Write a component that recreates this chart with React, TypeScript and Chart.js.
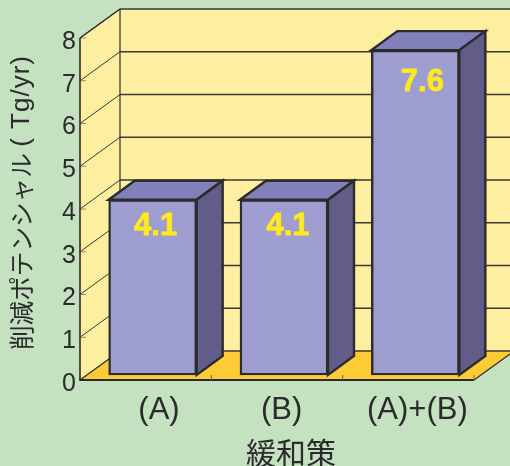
import React, { useEffect, useRef } from "react";
import { Chart, registerables } from "chart.js";

Chart.register(...registerables);

const categories = ["(A)", "(B)", "(A)+(B)"];
const potentials = [4.1, 4.1, 7.6];
const valueTicks = [0, 1, 2, 3, 4, 5, 6, 7, 8];
const yAxisTitleJa = "削減ポテンシャル";
const yAxisTitleUnit = "( Tg/yr)";
const xAxisTitle = "緩和策";

const PAGE_BG = "#c5e2c0";
const WALL = "#fdeea0";
const FLOOR = "#fdcb35";
const BAR_FRONT = "#9d9dcf";
const BAR_TOP = "#8280b8";
const BAR_SIDE = "#615c88";
const INK = "#2b2a2c";
const LABEL = "#ffe81e";
const LATIN = '"Liberation Sans", Arial, sans-serif';
const CJK = '"Noto Sans CJK JP", sans-serif';

// Room depth and bar depth of the fake 3D projection.
const ROOM_DX = 40;
const ROOM_DY = 29;
const BAR_DX = 26;
const BAR_DY = 19;
const BAR_SHIFT_X = 7;
const BAR_SHIFT_Y = -5;
const VALUE_NUDGE = [
  { x: 3, y: 27 },
  { x: 4, y: 27 },
  { x: 7, y: 32 },
];
// Padding that nudges the category labels sideways around their slots.
const TICK_PAD = [[" ", ""], ["", " "], ["", ""]];

function poly(ctx: CanvasRenderingContext2D, pts: number[][], fill?: string, stroke?: string, lw = 2) {
  ctx.beginPath();
  pts.forEach(([x, y], i) => (i ? ctx.lineTo(x, y) : ctx.moveTo(x, y)));
  ctx.closePath();
  if (fill) {
    ctx.fillStyle = fill;
    ctx.fill();
  }
  if (stroke) {
    ctx.strokeStyle = stroke;
    ctx.lineWidth = lw;
    ctx.lineJoin = "miter";
    ctx.stroke();
  }
}

function line(ctx: CanvasRenderingContext2D, x1: number, y1: number, x2: number, y2: number, color: string, lw: number) {
  ctx.beginPath();
  ctx.moveTo(x1, y1);
  ctx.lineTo(x2, y2);
  ctx.strokeStyle = color;
  ctx.lineWidth = lw;
  ctx.stroke();
}

// Walls, floor and grid of the room behind the bars.
const roomPlugin = {
  id: "room",
  beforeDatasetsDraw(chart: any) {
    const { ctx, chartArea: a, scales } = chart;
    const y0 = scales.y.getPixelForValue(0);
    const yMax = scales.y.getPixelForValue(8);
    const dx = ROOM_DX;
    const dy = ROOM_DY;
    ctx.save();
    poly(ctx, [[a.left + dx, yMax - dy], [a.right + dx, yMax - dy], [a.right + dx, y0 - dy], [a.left + dx, y0 - dy]], WALL);
    poly(ctx, [[a.left, yMax], [a.left + dx, yMax - dy], [a.left + dx, y0 - dy], [a.left, y0]], WALL);
    poly(ctx, [[a.left, y0], [a.left + dx, y0 - dy], [a.right + dx, y0 - dy], [a.right, y0]], FLOOR);
    valueTicks.forEach((v) => {
      const y = scales.y.getPixelForValue(v);
      if (v > 0) {
        line(ctx, a.left, y, a.left + dx, y - dy, "#3a3834", 1);
        line(ctx, a.left, y, a.left + 6, y, "#8f8a6c", 1);
      }
      line(ctx, a.left + dx, y - dy, a.right + dx, y - dy, "#3a3834", v === 0 ? 1.6 : 1.3);
    });
    line(ctx, a.left, yMax, a.left + dx, yMax - dy, INK, 1.4);
    line(ctx, a.left + dx, yMax - dy, a.left + dx, y0 - dy, INK, 1.2);
    line(ctx, a.left, yMax, a.left, y0 + 1, INK, 1.6);
    line(ctx, a.left, y0, a.right, y0, INK, 1.8);
    line(ctx, a.left, y0, a.left + dx, y0 - dy, INK, 1.2);
    line(ctx, a.right, y0, a.right + dx, y0 - dy, INK, 1.2);
    categories.forEach((_, i) => {
      const x = a.left + ((i + 1) * (a.right - a.left)) / categories.length;
      line(ctx, x, y0, x, y0 - 5, "#6f6a4a", 1);
    });
    ctx.restore();
  },
};

// Moves the bars forward from the axis plane, adds the top and side faces.
const boxPlugin = {
  id: "box",
  beforeDatasetDraw(chart: any) {
    chart.ctx.save();
    chart.ctx.translate(BAR_SHIFT_X, BAR_SHIFT_Y);
  },
  afterDatasetDraw(chart: any, args: any) {
    const { ctx } = chart;
    const meta = chart.getDatasetMeta(args.index);
    meta.data.forEach((el: any) => {
      const half = el.width / 2;
      const l = el.x - half;
      const r = el.x + half;
      const t = el.y;
      const b = el.base;
      poly(ctx, [[l, t], [l + BAR_DX, t - BAR_DY], [r + BAR_DX, t - BAR_DY], [r, t]], BAR_TOP, INK, 2.4);
      poly(ctx, [[r, t], [r + BAR_DX, t - BAR_DY], [r + BAR_DX, b - BAR_DY], [r, b]], BAR_SIDE, INK, 2.4);
    });
    ctx.restore();
    ctx.save();
    ctx.font = `bold 31px ${LATIN}`;
    ctx.fillStyle = LABEL;
    ctx.strokeStyle = LABEL;
    ctx.lineWidth = 0.8;
    ctx.textAlign = "center";
    ctx.textBaseline = "middle";
    meta.data.forEach((el: any, i: number) => {
      const text = potentials[i].toFixed(1);
      const x = el.x + BAR_SHIFT_X + VALUE_NUDGE[i].x;
      const y = el.y + BAR_SHIFT_Y + VALUE_NUDGE[i].y;
      ctx.fillText(text, x, y);
      ctx.strokeText(text, x, y);
    });
    ctx.restore();
  },
};

// Axis captions placed off-centre from the plot area.
const captionPlugin = {
  id: "captions",
  afterDraw(chart: any) {
    const { ctx } = chart;
    ctx.save();
    ctx.fillStyle = INK;
    ctx.textBaseline = "middle";
    ctx.save();
    ctx.translate(22, 350);
    ctx.rotate(-Math.PI / 2);
    ctx.textAlign = "left";
    ctx.font = `24.6px ${CJK}`;
    ctx.fillText(yAxisTitleJa, 0, 0);
    ctx.textAlign = "right";
    ctx.font = `26px ${LATIN}`;
    (ctx as any).letterSpacing = "1px";
    ctx.fillText(yAxisTitleUnit, 295, 0);
    ctx.restore();
    ctx.textAlign = "center";
    ctx.font = `30px ${CJK}`;
    ctx.fillText(xAxisTitle, 291, 453);
    ctx.restore();
  },
};

export default function App() {
  const ref = useRef<HTMLCanvasElement | null>(null);
  useEffect(() => {
    if (!ref.current) return;
    const chart = new Chart(ref.current, {
      type: "bar",
      data: {
        labels: categories,
        datasets: [
          {
            data: potentials,
            backgroundColor: BAR_FRONT,
            borderColor: INK,
            borderWidth: 2.4,
            borderSkipped: false,
            barThickness: 88,
            clip: false,
          } as any,
        ],
      },
      options: {
        responsive: false,
        animation: false,
        layout: { padding: { top: 38, right: 36, left: 0, bottom: 0 } },
        plugins: { legend: { display: false }, tooltip: { enabled: false } },
        scales: {
          x: {
            grid: { display: false, tickLength: 0 },
            border: { display: false },
            afterFit: (s: any) => {
              s.height = 86;
            },
            ticks: {
              color: INK,
              font: { family: LATIN, size: 31 },
              padding: 12,
              maxRotation: 0,
              autoSkip: false,
              labelOffset: 9,
              callback: (_v: any, i: number) => TICK_PAD[i][0] + categories[i] + TICK_PAD[i][1],
            },
          },
          y: {
            min: 0,
            max: 8,
            grid: { display: false, tickLength: 0 },
            border: { display: false },
            afterFit: (s: any) => {
              s.width = 80;
            },
            ticks: {
              stepSize: 1,
              color: INK,
              font: { family: LATIN, size: 25 },
              padding: 4,
              labelOffset: 4,
            },
          },
        },
      },
      plugins: [roomPlugin, boxPlugin, captionPlugin],
    });
    return () => chart.destroy();
  }, []);
  return (
    <div style={{ position: "fixed", left: 0, top: 0, width: 510, height: 466, background: PAGE_BG, overflow: "hidden" }}>
      <canvas ref={ref} width={510} height={466} style={{ display: "block" }} />
    </div>
  );
}
